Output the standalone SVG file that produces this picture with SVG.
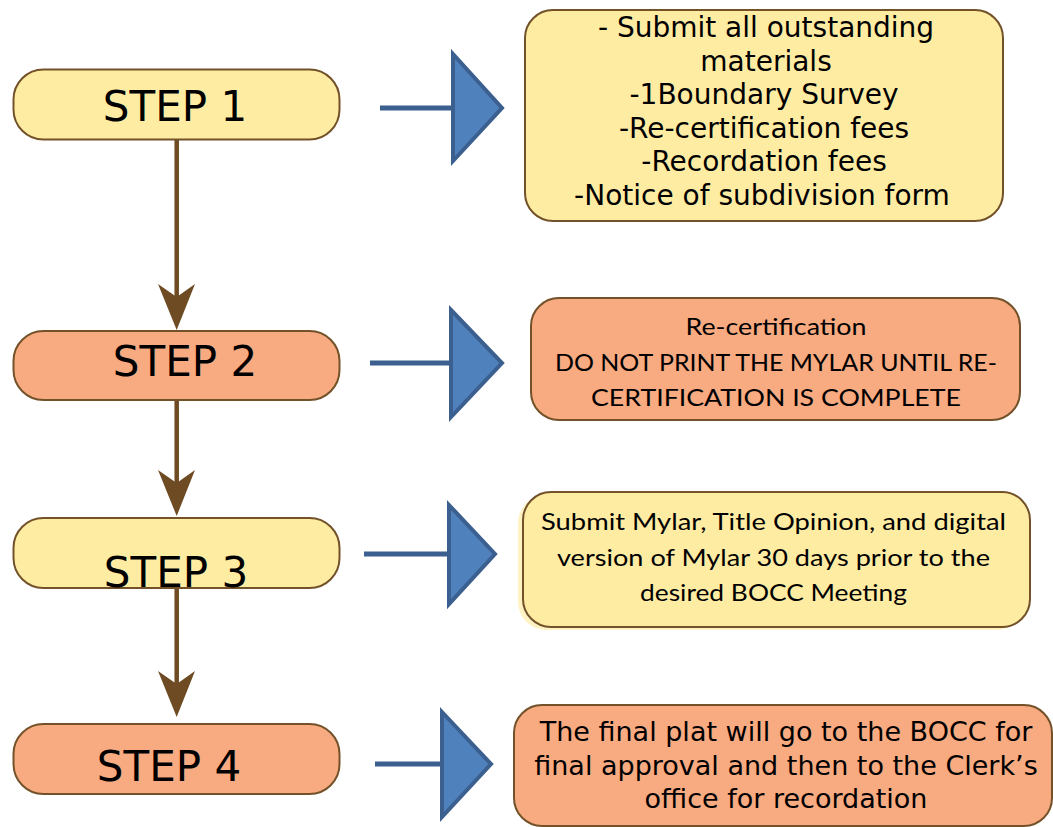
<svg xmlns="http://www.w3.org/2000/svg" width="1053" height="827" viewBox="0 0 1053 827">
<style>
.box{stroke:#73522A;stroke-width:2}
.y{fill:#FFECA3}
.o{fill:#F8AA80}
.step{font-family:"DejaVu Sans",Verdana,sans-serif;font-size:42px;fill:#000;text-anchor:middle}
.v{font-family:"DejaVu Sans",Verdana,sans-serif;font-size:27px;fill:#000;text-anchor:middle}
.v1{font-size:28px}
.c{font-family:Lato,"Open Sans",sans-serif;font-size:24px;fill:#000;text-anchor:middle}
.down{stroke:#6E4B22;stroke-width:4.5;fill:none}
.head{fill:#6E4B22}
.bl{stroke:#3B5F8E;stroke-width:5;fill:none}
.tri{fill:#4F81BD;stroke:#3B5F8E;stroke-width:4}
</style>
<rect width="1053" height="827" fill="#fff"/>
<g id="connectors">
<line class="down" x1="176.7" y1="140" x2="176.7" y2="300"/>
<polygon class="head" points="176.7,330 158,284 176.7,297 195,284"/>
<line class="down" x1="176.7" y1="400" x2="176.7" y2="486"/>
<polygon class="head" points="176.7,516 158,470 176.7,483 195,470"/>
<line class="down" x1="176.7" y1="588" x2="176.7" y2="687"/>
<polygon class="head" points="176.7,717 158,671 176.7,684 195,671"/>
<line class="bl" x1="380" y1="108" x2="453" y2="108"/>
<polygon class="tri" points="453,54 502,108 453,161"/>
<line class="bl" x1="370" y1="363" x2="451" y2="363"/>
<polygon class="tri" points="451,310 502,363 451,417"/>
<line class="bl" x1="364" y1="554" x2="449" y2="554"/>
<polygon class="tri" points="449,505 495,554 449,604"/>
<line class="bl" x1="375" y1="764" x2="442" y2="764"/>
<polygon class="tri" points="442,712 491,764 442,817"/>
</g>
<g id="step1">
<rect class="box y" x="13.5" y="69.5" width="326" height="70" rx="30"/>
<text class="step" x="175" y="121">STEP 1</text>
</g>
<g id="step2">
<rect class="box o" x="13.5" y="331" width="326" height="69" rx="30"/>
<text class="step" x="185" y="376">STEP 2</text>
</g>
<g id="step3">
<rect class="box y" x="13.5" y="518" width="326" height="70" rx="30"/>
<text class="step" x="176" y="587">STEP 3</text>
</g>
<g id="step4">
<rect class="box o" x="13.5" y="724" width="326" height="70" rx="30"/>
<text class="step" x="169" y="781">STEP 4</text>
</g>
<g id="detail1">
<rect class="box y" x="525" y="10" width="478" height="211" rx="28"/>
<text class="v v1" x="766" y="37">- Submit all outstanding</text>
<text class="v v1" x="766" y="70.5">materials</text>
<text class="v v1" x="764" y="104">-1Boundary Survey</text>
<text class="v v1" x="764" y="137.5">-Re-certification fees</text>
<text class="v v1" x="764" y="171">-Recordation fees</text>
<text class="v v1" x="762" y="204.5">-Notice of subdivision form</text>
</g>
<g id="detail2">
<rect class="box o" x="531" y="298" width="489" height="122" rx="28"/>
<text class="c" x="776" y="335" textLength="181" lengthAdjust="spacingAndGlyphs">Re-certification</text>
<text class="c" x="776" y="371" textLength="442" lengthAdjust="spacingAndGlyphs">DO NOT PRINT THE MYLAR UNTIL RE-</text>
<text class="c" x="776" y="406" textLength="370" lengthAdjust="spacingAndGlyphs">CERTIFICATION IS COMPLETE</text>
</g>
<g id="detail3">
<rect x="518" y="495" width="507" height="135" rx="28" fill="#FFF3C4"/>
<rect class="box y" x="523" y="492" width="507" height="135" rx="28"/>
<text class="c" x="773.5" y="530" textLength="465" lengthAdjust="spacingAndGlyphs">Submit Mylar, Title Opinion, and digital</text>
<text class="c" x="773.5" y="566" textLength="433" lengthAdjust="spacingAndGlyphs">version of Mylar 30 days prior to the</text>
<text class="c" x="773.5" y="601" textLength="267" lengthAdjust="spacingAndGlyphs">desired BOCC Meeting</text>
</g>
<g id="detail4">
<rect class="box o" x="514" y="705" width="538" height="121" rx="28"/>
<text class="v" x="786" y="741">The final plat will go to the BOCC for</text>
<text class="v" x="786" y="775">final approval and then to the Clerk’s</text>
<text class="v" x="786" y="808">office for recordation</text>
</g>
</svg>
